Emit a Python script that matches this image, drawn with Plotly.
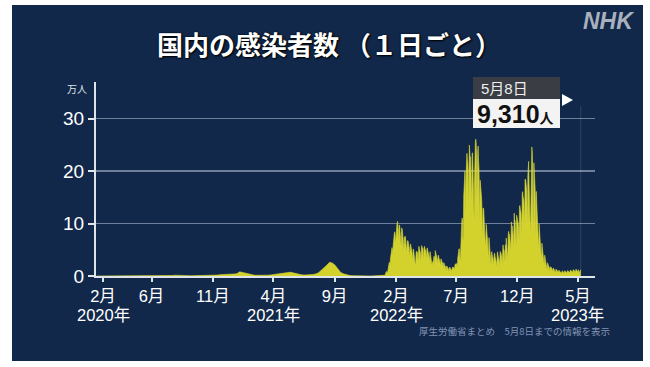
import pandas as pd
import plotly.graph_objects as go

# ---------------- DATA (values in 万人 = 10,000 people) ----------------
# Weekly envelope values, weeks starting Mon 2020-01-13 .. Mon 2021-12-27 (plotted at Thursdays)
early_2020 = [0.0001, 0.0003, 0.0008, 0.001, 0.002, 0.002, 0.003, 0.004, 0.006, 0.006,
              0.02, 0.04, 0.07, 0.072, 0.045, 0.03, 0.012, 0.006, 0.003, 0.004,
              0.005, 0.005, 0.006, 0.01, 0.03, 0.045, 0.067, 0.099, 0.15, 0.16,
              0.11, 0.12, 0.085, 0.065, 0.06, 0.065, 0.056, 0.06, 0.065, 0.07,
              0.075, 0.085, 0.12, 0.17, 0.25, 0.25, 0.25, 0.3, 0.3, 0.38, 0.45]
early_2021 = [0.79, 0.68, 0.55, 0.38, 0.26, 0.17, 0.14, 0.11, 0.12, 0.13,
              0.16, 0.2, 0.28, 0.35, 0.46, 0.53, 0.59, 0.65, 0.72, 0.6,
              0.43, 0.3, 0.23, 0.18, 0.18, 0.21, 0.27, 0.39, 0.59, 1.07,
              1.5, 2.04, 2.6, 2.48, 2.05, 1.26, 0.67, 0.41, 0.22, 0.12,
              0.07, 0.04, 0.03, 0.02, 0.02, 0.02, 0.015, 0.015, 0.015, 0.02,
              0.03, 0.05]

# Daily values from Mon 2022-01-03 (7 values per row = Mon..Sun)
daily_2022_h1 = [
    0.08, 0.13, 0.26, 0.42, 0.61, 0.86, 0.82,
    0.60, 0.62, 1.16, 1.87, 2.21, 2.58, 2.56,
    1.70, 3.22, 4.12, 4.69, 4.99, 5.42, 5.08,
    3.89, 5.94, 7.16, 7.85, 8.18, 8.44, 7.87,
    5.88, 8.48, 9.43, 9.62, 10.08, 10.43, 8.70,
    6.27, 8.91, 9.73, 9.71, 8.52, 7.12, 6.61,
    5.53, 9.15, 9.10, 8.59, 7.81, 7.05, 6.55,
    4.90, 7.44, 6.64, 7.60, 6.89, 6.52, 6.01,
    4.42, 6.56, 6.75, 6.69, 6.27, 5.92, 5.23,
    3.49, 5.84, 6.13, 5.80, 5.29, 5.02, 4.50,
    2.88, 4.92, 5.16, 4.96, 4.34, 4.13, 3.55,
    2.05, 2.49, 4.14, 4.74, 4.52, 4.58, 4.16,
    2.71, 5.09, 5.66, 5.34, 5.12, 4.91, 4.35,
    2.65, 4.90, 5.81, 5.43, 5.41, 5.29, 4.36,
    2.95, 5.17, 5.69, 5.29, 5.07, 4.89, 4.20,
    2.80, 4.93, 5.36, 4.93, 4.68, 4.55, 3.90,
    2.56, 4.53, 4.63, 4.13, 3.57, 3.38, 3.49,
    1.96, 2.75, 2.50, 2.58, 3.38, 3.79, 3.46,
    2.34, 4.84, 4.49, 4.17, 3.89, 3.63, 3.14,
    1.96, 3.96, 3.91, 3.47, 3.25, 3.04, 2.56,
    1.62, 3.26, 3.21, 2.89, 2.69, 2.45, 2.15,
    1.29, 2.55, 2.45, 2.16, 1.95, 1.83, 1.61,
    0.94, 1.91, 1.90, 1.74, 1.59, 1.55, 1.34,
    0.79, 1.58, 1.71, 1.54, 1.44, 1.39, 1.24,
    0.73, 1.52, 1.71, 1.57, 1.63, 1.63, 1.51,
]
daily_2022_h2 = [
    0.99, 2.08, 2.31, 2.34, 2.31, 2.37, 2.18,
    1.51, 3.36, 4.55, 4.75, 5.16, 5.18, 4.54,
    2.76, 3.86, 7.63, 9.73, 10.27, 11.07, 10.54,
    6.43, 7.48, 15.24, 18.60, 19.52, 20.01, 17.84,
    10.72, 19.69, 20.94, 23.39, 22.14, 21.64, 19.78,
    12.59, 19.59, 24.97, 23.88, 22.42, 22.72, 19.99,
    13.53, 17.52, 23.32, 23.50, 20.62, 17.20, 14.26,
    10.18, 18.13, 25.44, 25.53, 26.10, 25.45, 22.66,
    14.22, 20.80, 23.96, 24.77, 21.91, 20.56, 16.08,
    9.42, 18.28, 17.70, 16.09, 15.47, 14.20, 11.94,
    6.75, 12.90, 12.99, 12.55, 11.04, 10.13, 8.97,
    5.33, 7.12, 9.85, 9.13, 8.05, 7.58, 6.21,
    3.35, 4.03, 7.31, 6.25, 4.91, 5.40, 4.44,
    2.09, 4.04, 4.65, 4.00, 3.83, 3.42, 2.87,
    1.91, 4.02, 4.37, 3.77, 3.34, 3.04, 2.71,
    1.37, 2.29, 4.61, 4.22, 3.73, 3.53, 2.99,
    1.72, 3.81, 4.69, 4.51, 4.32, 4.07, 3.54,
    2.08, 5.01, 5.94, 5.08, 5.13, 4.74, 4.08,
    2.46, 5.97, 4.43, 7.23, 6.13, 5.84, 4.81,
    3.03, 7.77, 8.51, 8.06, 7.95, 7.49, 6.31,
    4.04, 9.31, 10.32, 9.31, 9.53, 8.61, 7.84,
    4.58, 7.15, 11.98, 10.52, 10.61, 9.38, 8.29,
    5.52, 11.59, 11.27, 10.99, 10.45, 9.91, 8.85,
    6.32, 13.12, 13.45, 12.84, 12.36, 11.95, 10.29,
    7.61, 15.77, 16.09, 15.12, 14.91, 14.42, 12.23,
    8.65, 18.49, 18.45, 17.95, 17.07, 16.37, 13.41,
]
daily_2023 = [
    9.23, 19.23, 21.61, 21.86, 17.63, 11.18, 9.52,
    8.11, 10.57, 17.84, 21.80, 24.61, 23.48, 20.56,
    9.21, 12.09, 21.60, 20.42, 18.45, 16.76, 14.27,
    7.26, 16.14, 14.21, 12.92, 11.48, 10.52, 8.93,
    4.87, 9.90, 8.52, 7.43, 6.84, 6.34, 5.40,
    2.93, 6.25, 5.57, 4.97, 4.49, 4.07, 3.43,
    1.85, 3.97, 3.49, 3.14, 2.86, 2.59, 2.23,
    1.12, 2.52, 2.28, 2.08, 1.90, 1.71, 1.45,
    0.75, 1.77, 1.40, 1.67, 1.50, 1.34, 1.17,
    0.62, 1.50, 1.48, 1.32, 1.17, 1.12, 0.98,
    0.53, 1.31, 1.29, 1.14, 1.03, 0.96, 0.82,
    0.43, 1.07, 1.05, 0.94, 0.85, 0.81, 0.72,
    0.41, 0.90, 0.61, 0.99, 0.88, 0.83, 0.74,
    0.37, 0.92, 0.99, 0.92, 0.86, 0.84, 0.77,
    0.39, 0.98, 1.03, 0.94, 0.88, 0.85, 0.78,
    0.42, 1.06, 1.13, 1.04, 0.97, 0.98, 0.87,
    0.47, 1.15, 1.21, 1.16, 1.08, 1.05, 0.95,
    0.53, 1.27, 1.29, 1.23, 1.13, 0.84, 0.97,
    0.59, 1.20, 0.79, 0.55, 0.70, 1.01, 1.16,
    0.931,
]

latest_date = "2023-05-08"
latest_label = "5月8日"
latest_count = 9310

tick_dates = ["2020-02-01", "2020-06-01", "2020-11-01", "2021-04-01", "2021-09-01",
              "2022-02-01", "2022-07-01", "2022-12-01", "2023-05-01"]
tick_labels = ["2月", "6月", "11月", "4月", "9月", "2月", "7月", "12月", "5月"]
year_dates = ["2020-02-01", "2021-04-01", "2022-02-01", "2023-05-01"]
year_labels = ["2020年", "2021年", "2022年", "2023年"]
y_ticks = [0, 10, 20, 30]

title_text = "国内の感染者数 （１日ごと）"
unit_text = "万人"
source_text = "厚生労働省まとめ　5月8日までの情報を表示"

# ---------------- BUILD ----------------
early = early_2020 + early_2021
daily = daily_2022_h1 + daily_2022_h2 + daily_2023
early_x = list(pd.date_range("2020-01-16", periods=len(early), freq="7D"))
daily_x = list(pd.date_range("2022-01-03", periods=len(daily), freq="D"))
xs = early_x + daily_x
ys = early + daily

NAVY = "#11284b"
FG = "#dfe4ea"
JP = "Liberation Sans, Noto Sans CJK JP, sans-serif"
JPB = "Noto Sans CJK JP, sans-serif"

W, H = 650, 367
L, R, T, B = 96, 595, 82, 276


def px(x):
    return (x - L) / (R - L)


def py(y):
    return (B - y) / (B - T)


fig = go.Figure()
fig.add_trace(go.Scatter(
    x=xs, y=ys, mode="lines",
    line=dict(color="#d9d934", width=0.6),
    fill="tozeroy", fillcolor="#d3d22c",
    hoverinfo="skip", showlegend=False,
))

shapes = [
    dict(type="rect", xref="paper", yref="paper", x0=px(12), x1=px(643), y0=py(361), y1=py(5),
         fillcolor=NAVY, line=dict(width=0), layer="below"),
    dict(type="line", xref="x", yref="paper", x0=latest_date, x1=latest_date, y0=0, y1=py(106),
         line=dict(color="rgba(255,255,255,0.13)", width=1)),
    dict(type="rect", xref="paper", yref="paper", x0=px(473), x1=px(560), y0=py(99), y1=py(77),
         fillcolor="#3a3e44", line=dict(width=0)),
    dict(type="rect", xref="paper", yref="paper", x0=px(473), x1=px(560), y0=py(128), y1=py(99),
         fillcolor="#f3f3f3", line=dict(width=0)),
    dict(type="path", xref="paper", yref="paper",
         path=f"M {px(562)} {py(94)} L {px(573)} {py(100)} L {px(562)} {py(106)} Z",
         fillcolor="#ffffff", line=dict(width=0)),
]

annotations = [
    dict(text=f"<b>{title_text}</b>", x=px(329), y=py(43), xref="paper", yref="paper",
         xanchor="center", yanchor="middle", showarrow=False,
         font=dict(family=JPB, size=26, color="#ffffff",
                   shadow="0px 0px 2px #000000, 1px 1px 2px #000000")),
    dict(text="<b><i>NHK</i></b>", x=px(636), y=py(21), xref="paper", yref="paper",
         xanchor="right", yanchor="middle", showarrow=False,
         font=dict(family="Liberation Sans, sans-serif", size=23, color="#a9b1bd")),
    dict(text=unit_text, x=px(77), y=py(88), xref="paper", yref="paper",
         xanchor="center", yanchor="middle", showarrow=False,
         font=dict(family=JPB, size=10, color=FG)),
    dict(text=source_text, x=px(612), y=py(331), xref="paper", yref="paper",
         xanchor="right", yanchor="middle", showarrow=False,
         font=dict(family=JPB, size=9.5, color="#8193b2")),
    dict(text=latest_label, x=px(479), y=py(88), xref="paper", yref="paper",
         xanchor="left", yanchor="middle", showarrow=False,
         font=dict(family=JP, size=15, color="#eeeeee")),
    dict(text=f"<b>{latest_count:,}</b><span style='font-size:14px'><b>人</b></span>",
         x=px(475), y=py(114), xref="paper", yref="paper",
         xanchor="left", yanchor="middle", showarrow=False,
         font=dict(family=JP, size=25, color="#111111")),
]
for d, t in zip(year_dates, year_labels):
    annotations.append(dict(text=t, x=d, xref="x", y=py(315), yref="paper",
                            xanchor="center", yanchor="middle", showarrow=False,
                            font=dict(family=JP, size=16.5, color="#ffffff")))

fig.update_layout(
    width=W, height=H,
    margin=dict(l=L, r=W - R, t=T, b=H - B),
    paper_bgcolor="#ffffff", plot_bgcolor="rgba(0,0,0,0)",
    shapes=shapes, annotations=annotations,
    showlegend=False,
    xaxis=dict(
        type="date", range=["2020-01-14 12:00", "2023-06-12 12:00"],
        tickmode="array", tickvals=tick_dates, ticktext=tick_labels,
        ticks="outside", ticklen=4, tickwidth=2, tickcolor=FG,
        showline=True, linecolor=FG, linewidth=2,
        showgrid=False, zeroline=False,
        tickfont=dict(family=JP, size=16.5, color="#ffffff"),
    ),
    yaxis=dict(
        range=[0, 37], tickmode="array", tickvals=y_ticks,
        ticks="outside", ticklen=6, tickwidth=2, tickcolor=FG,
        showline=True, linecolor=FG, linewidth=2,
        showgrid=True, gridcolor="#6f809c", gridwidth=1.5,
        zeroline=False,
        tickfont=dict(family=JP, size=19, color="#ffffff"),
    ),
)

fig.write_html(
    "out.html",
    config={"displayModeBar": False, "staticPlot": True},
    post_script="document.body.style.margin='0';document.body.style.overflow='hidden';",
)
